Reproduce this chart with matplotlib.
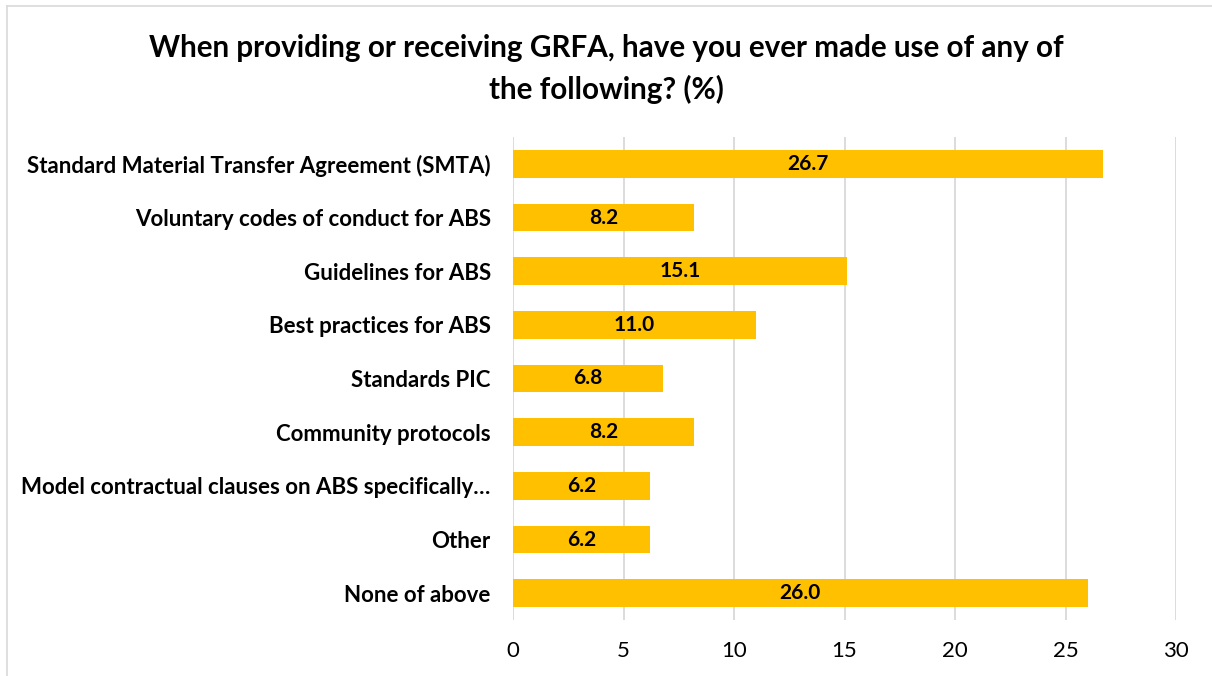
import matplotlib.pyplot as plt
from matplotlib.lines import Line2D

# datos del grafico
categorias = ["Standard Material Transfer Agreement (SMTA)",
              "Voluntary codes of conduct for ABS",
              "Guidelines for ABS",
              "Best practices for ABS",
              "Standards PIC",
              "Community protocols",
              "Model contractual clauses on ABS specifically…",
              "Other",
              "None of above"]
valores = [26.7, 8.2, 15.1, 11.0, 6.8, 8.2, 6.2, 6.2, 26.0]
ticks_x = [0, 5, 10, 15, 20, 25, 30]

plt.rcParams['font.family'] = ['Lato', 'DejaVu Sans']

fig = plt.figure(figsize=(12.12, 6.76), dpi=100)
ax = fig.add_axes([513/1212, 1-620/676, (1176-513)/1212, (620-137)/676])

pos = list(range(len(categorias)))
ax.barh(pos, valores, height=0.52, color="#FFC000", zorder=2)
for p, v in zip(pos, valores):
    ax.text(v/2, p, "%.1f" % v, ha="center", va="center",
            fontsize=15, fontweight="bold", color="black", zorder=3)

ax.set_xlim(0, 30)
ax.set_ylim(len(categorias)-0.5, -0.5)
ax.set_xticks(ticks_x)
ax.set_xticklabels([str(t) for t in ticks_x], fontsize=16)
ax.set_yticks(pos)
ax.set_yticklabels(categorias, fontsize=16, fontweight="bold")
ax.tick_params(axis="both", length=0)
ax.tick_params(axis="x", pad=15)
ax.tick_params(axis="y", pad=16)
ax.xaxis.grid(True, color="#D9D9D9", linewidth=1.3, zorder=0)
ax.yaxis.grid(False)
for s in ax.spines.values():
    s.set_visible(False)

fig.text(0.5, 1-69/676, "When providing or receiving GRFA, have you ever made use of any of\nthe following? (%)",
         ha="center", va="center", fontsize=21.3, fontweight="bold", linespacing=1.55)

# borde gris del recuadro
fig.add_artist(Line2D([6.5/1212, 6.5/1212], [0, 1-6/676], color="#D9D9D9", linewidth=1.2))
fig.add_artist(Line2D([6.5/1212, 1], [1-6/676, 1-6/676], color="#D9D9D9", linewidth=1.2))

fig.savefig("out.png", dpi=100)
